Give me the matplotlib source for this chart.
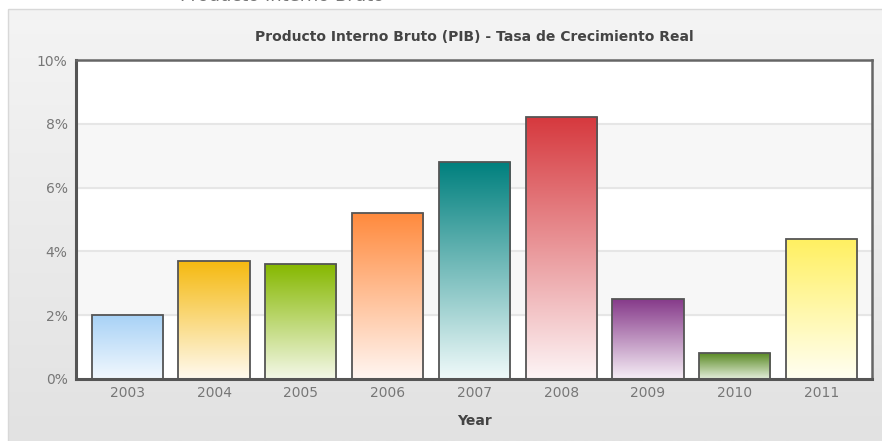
#!/usr/bin/env python3
"""PIB growth rate bar chart, gradient bars."""

import matplotlib
matplotlib.use('Agg')
import matplotlib.pyplot as plt
import numpy as np
from matplotlib.colors import to_rgb
from matplotlib.patches import Rectangle

years = ['2003', '2004', '2005', '2006', '2007', '2008', '2009', '2010', '2011']
growth = [2.0, 3.7, 3.6, 5.2, 6.8, 8.2, 2.5, 0.8, 4.4]
top_colors = ['#a8d2f6', '#f5b90e', '#86b800', '#ff8a3d', '#00807e',
              '#d6393e', '#863a8a', '#5a8a24', '#fff060']
bottom_colors = ['#f2f8fe', '#fffaf0', '#f4f8e8', '#fff6f2', '#f0fafa',
                 '#fdf5f6', '#f6eef6', '#e4eedc', '#fffff2']
y_ticks = [0, 2, 4, 6, 8, 10]

W, H = 882, 441
fig = plt.figure(figsize=(W / 100, H / 100), dpi=100)
fig.patch.set_facecolor('white')

# outer panel with vertical gradient
bg = fig.add_axes([0, 0, 1, 1], zorder=-10)
grad = np.linspace(0, 1, 256)[:, None]
c1, c2 = np.array(to_rgb('#f4f4f4')), np.array(to_rgb('#e2e2e2'))
img = c1 + (c2 - c1) * grad[..., None]
bg.imshow(img, extent=[8, W, H, 9], aspect='auto')
bg.add_patch(Rectangle((8, 9), W, H, fill=False, edgecolor='#d8d8d8', lw=1))
bg.set_xlim(0, W)
bg.set_ylim(H, 0)
bg.axis('off')

# heading of the page, cut off at the very top
fig.text(180 / W, 1 - 1.0 / H, 'Producto Interno Bruto', fontsize=13,
         color='#777777', va='baseline', ha='left')

x0, x1, yb, yt = 76, 872, 379, 60
ax = fig.add_axes([x0 / W, (H - yb) / H, (x1 - x0) / W, (yb - yt) / H])
ax.set_facecolor('white')

x = np.arange(len(years))

# alternating bands
for lo in [2, 6]:
    ax.axhspan(lo, lo + 2, color='#f7f7f7', zorder=0)
for t in y_ticks[1:-1]:
    ax.axhline(t, color='#e6e6e6', lw=1.5, zorder=0.5)

width = 0.82
bars = ax.bar(x, growth, width=width, facecolor='none', edgecolor='#555555',
              linewidth=1.3, zorder=3)
for b, ct, cb in zip(bars, top_colors, bottom_colors):
    a, c = np.array(to_rgb(ct)), np.array(to_rgb(cb))
    g = a + (c - a) * grad[..., None]
    bx, bw, bh = b.get_x(), b.get_width(), b.get_height()
    im = ax.imshow(g, extent=[bx, bx + bw, 0, bh], aspect='auto', zorder=2)
    im.set_clip_path(b)
ax.set_xlim(-0.59, len(years) - 1 + 0.58)
ax.set_ylim(0, 10)

ax.set_xticks(x)
ax.set_xticklabels(years, fontsize=10, color='#777777')
ax.set_yticks(y_ticks)
ax.set_yticklabels([f'{t}%' for t in y_ticks], fontsize=10, color='#777777')
ax.tick_params(axis='x', length=0, pad=5)
ax.tick_params(axis='y', length=0, pad=6)

for s in ['left', 'bottom']:
    ax.spines[s].set_color('#555555')
    ax.spines[s].set_linewidth(2.2)
for s in ['top', 'right']:
    ax.spines[s].set_color('#666666')
    ax.spines[s].set_linewidth(1.8)

ax.set_title('Producto Interno Bruto (PIB) - Tasa de Crecimiento Real',
             fontsize=10, fontweight='bold', color='#444444', pad=14)
ax.set_xlabel('Year', fontsize=10, fontweight='bold', color='#444444', labelpad=10)

fig.savefig('out.png', dpi=100)
plt.close(fig)
